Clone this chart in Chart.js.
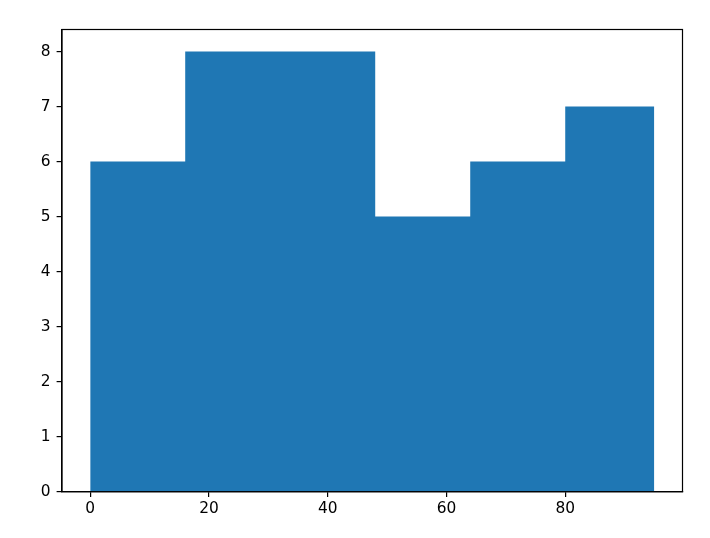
<!DOCTYPE html>
<html>
<head>
<meta charset="utf-8">
<script src="https://cdn.jsdelivr.net/npm/chart.js@4/dist/chart.umd.min.js"></script>
<style>
  html, body { margin: 0; padding: 0; background: #fff; }
  #wrap { width: 710px; height: 538px; }
</style>
</head>
<body>
<div id="wrap"><canvas id="hist"></canvas></div>
<script>
// histogram bins: edges and counts
const binEdges = [0, 16, 32, 48, 64, 80, 95];
const counts = [6, 8, 8, 5, 6, 7];
const xTicks = [0, 20, 40, 60, 80];
const yTicks = [0, 1, 2, 3, 4, 5, 6, 7, 8];

// step outline: each edge carries the count of the bin that starts there
const points = binEdges.map((e, i) => ({ x: e, y: counts[Math.min(i, counts.length - 1)] }));

const xSpan = binEdges[binEdges.length - 1] - binEdges[0];
const yTop = Math.max(...counts);

const frame = {
  id: 'frame',
  afterDraw(chart) {
    const { ctx, chartArea: a } = chart;
    ctx.save();
    ctx.strokeStyle = '#000';
    ctx.lineWidth = 1.2;
    ctx.strokeRect(a.left, a.top, a.right - a.left, a.bottom - a.top);
    ctx.restore();
  },
};

const tickFont = { family: 'DejaVu Sans', size: 15.4 };

new Chart(document.getElementById('hist'), {
  type: 'line',
  data: {
    datasets: [{
      data: points,
      stepped: 'before',
      fill: 'origin',
      backgroundColor: '#1f77b4',
      borderColor: 'rgba(0,0,0,0)',
      borderWidth: 0,
      pointRadius: 0,
    }],
  },
  options: {
    responsive: true,
    maintainAspectRatio: false,
    animation: false,
    layout: { padding: { left: 0, right: 27.5, top: 29.5, bottom: 0 } },
    plugins: { legend: { display: false }, tooltip: { enabled: false } },
    scales: {
      x: {
        type: 'linear',
        min: binEdges[0] - xSpan * 0.05,
        max: binEdges[binEdges.length - 1] + xSpan * 0.05,
        afterBuildTicks: (s) => { s.ticks = xTicks.map((v) => ({ value: v })); },
        afterFit: (s) => { s.height = 46.3; },
        grid: { drawOnChartArea: false, drawTicks: true, tickLength: 5.4, color: '#000', lineWidth: 1.2 },
        border: { display: true, color: '#000', width: 1.2 },
        ticks: { color: '#000', font: tickFont, padding: 3, maxRotation: 0 },
      },
      y: {
        type: 'linear',
        min: 0,
        max: yTop * 1.05,
        afterBuildTicks: (s) => { s.ticks = yTicks.map((v) => ({ value: v })); },
        afterFit: (s) => { s.width = 62; },
        grid: { drawOnChartArea: false, drawTicks: true, tickLength: 5.4, color: '#000', lineWidth: 1.2 },
        border: { display: true, color: '#000', width: 1.2 },
        ticks: { color: '#000', font: tickFont, padding: 6 },
      },
    },
  },
  plugins: [frame],
});
</script>
</body>
</html>
